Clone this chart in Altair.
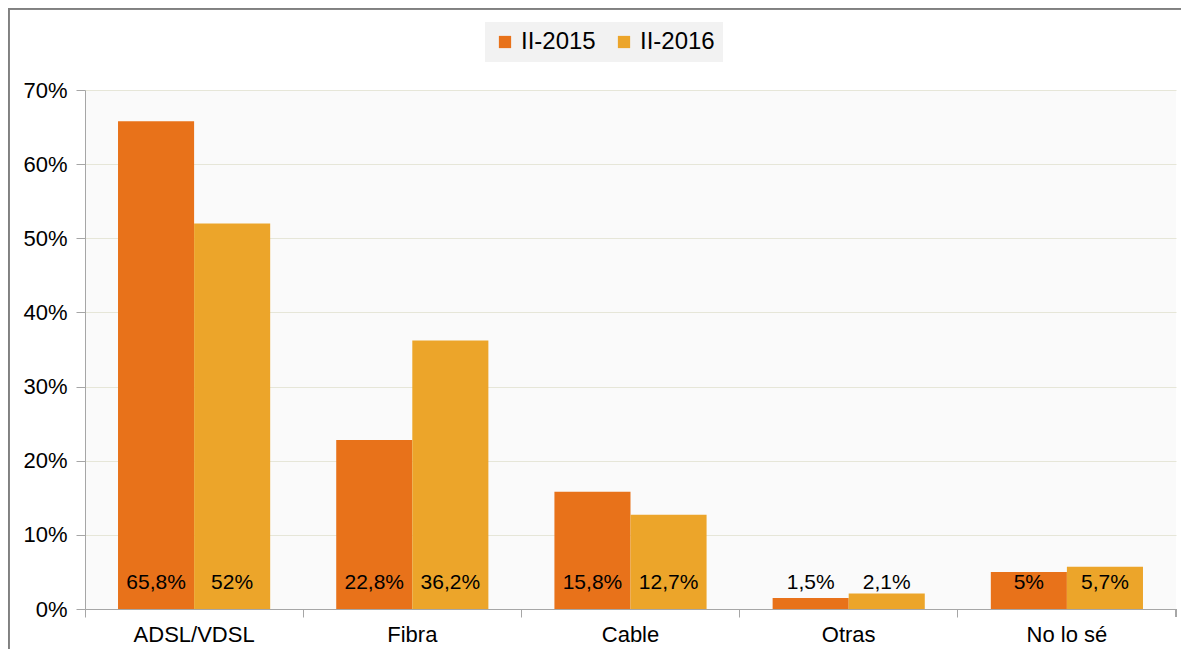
import altair as alt
import pandas as pd

categories = ["ADSL/VDSL", "Fibra", "Cable", "Otras", "No lo sé"]
series = ["II-2015", "II-2016"]
values_2015 = [65.8, 22.8, 15.8, 1.5, 5.0]
values_2016 = [52.0, 36.2, 12.7, 2.1, 5.7]
y_ticks = [0, 10, 20, 30, 40, 50, 60, 70]

colors = ["#E8721A", "#ECA52A"]
FONT = "Liberation Sans"

rows = []
for c, a, b in zip(categories, values_2015, values_2016):
    for s, v in zip(series, [a, b]):
        rows.append({"cat": c, "serie": s, "val": v,
                     "label": f"{v:g}".replace(".", ",") + "%"})
df = pd.DataFrame(rows)

W, H = 1091, 519

x_enc = alt.X("cat:N", sort=categories, title=None,
              scale=alt.Scale(paddingInner=0, paddingOuter=0),
              axis=alt.Axis(labelAngle=0, labelFontSize=22, labelFont=FONT,
                            labelColor="#000000", labelPadding=7,
                            domainColor="#a6a6a6", tickColor="#a6a6a6",
                            tickSize=8, bandPosition=0, ticks=True, grid=False))
xo = alt.XOffset("serie:N", sort=series,
                 scale=alt.Scale(paddingInner=0, paddingOuter=0.434))

bars = alt.Chart(df).mark_bar().encode(
    x=x_enc,
    xOffset=xo,
    y=alt.Y("val:Q", title=None,
            scale=alt.Scale(domain=[0, 70], nice=False),
            axis=alt.Axis(values=y_ticks, labelExpr="datum.value + '%'",
                          labelFontSize=22, labelFont=FONT, labelColor="#000000",
                          labelPadding=9, domainColor="#a6a6a6", tickColor="#a6a6a6",
                          tickSize=9, gridColor="#e6e6d8", gridWidth=1)),
    color=alt.Color("serie:N", sort=series, title=None,
                    scale=alt.Scale(domain=series, range=colors),
                    legend=alt.Legend(orient="none", legendX=400, legendY=-68,
                                      direction="horizontal", symbolType="square",
                                      symbolSize=150, symbolStrokeWidth=0,
                                      labelFontSize=24, labelFont=FONT,
                                      labelColor="#000000", fillColor="#f2f2f2",
                                      padding=8, columnPadding=16, labelOffset=4)),
)

texts = alt.Chart(df).mark_text(fontSize=21, font=FONT, color="#000000",
                                baseline="middle", dy=-26).encode(
    x=alt.X("cat:N", sort=categories),
    xOffset=xo,
    y=alt.datum(0),
    text="label:N",
)

border_top = alt.Chart(df).mark_rule(color="#808080", strokeWidth=2.5).encode(
    x=alt.value(-78), x2=alt.value(1096), y=alt.value(-82))
border_left = alt.Chart(df).mark_rule(color="#808080", strokeWidth=2.5).encode(
    x=alt.value(-77), y=alt.value(-83), y2=alt.value(560))
right_tick = alt.Chart(df).mark_rule(color="#a6a6a6").encode(
    x=alt.value(W), y=alt.value(H), y2=alt.value(H + 8))

chart = alt.layer(bars, texts, right_tick, border_top, border_left).properties(
    width=W, height=H,
    autosize=alt.AutoSizeParams(type="none"),
    padding={"left": 77, "top": 82, "right": 5, "bottom": 40},
    background="#ffffff",
).configure_view(fill="#fafafa", stroke=None)

chart.save("out.html", embed_options={"renderer": "svg", "actions": False})
